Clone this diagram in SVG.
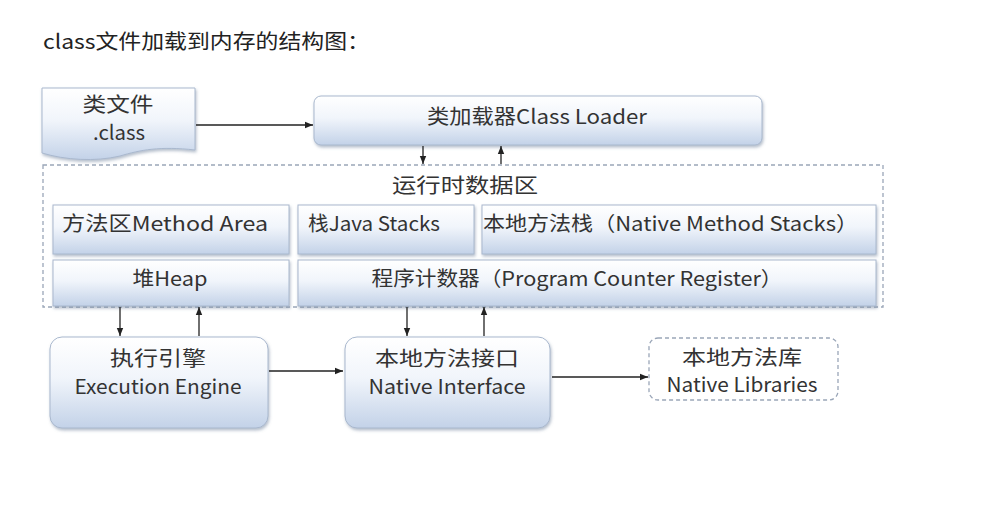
<svg xmlns="http://www.w3.org/2000/svg" width="981" height="511" viewBox="0 0 981 511">
<defs>
<linearGradient id="g" x1="0" y1="0" x2="0" y2="1">
<stop offset="0" stop-color="#ffffff"/>
<stop offset="0.45" stop-color="#f1f5fb"/>
<stop offset="1" stop-color="#c3d2e8"/>
</linearGradient>
<filter id="sh" x="-10%" y="-10%" width="120%" height="130%">
<feDropShadow dx="1" dy="2" stdDeviation="1.5" flood-color="#6b7f99" flood-opacity="0.5"/>
</filter>
<marker id="ah" viewBox="0 0 10 10" refX="10" refY="5" markerWidth="8" markerHeight="8" markerUnits="userSpaceOnUse" orient="auto">
<path d="M0,1 L10,5 L0,9 z" fill="#222"/>
</marker>
</defs>
<style>
text{font-family:"Noto Sans CJK SC","Noto Sans",sans-serif;fill:#333;font-size:20px}
.c{text-anchor:middle}
.box{fill:url(#g);stroke:#a9b8ce;stroke-width:1;filter:url(#sh)}
.con line{stroke:#222;stroke-width:1.3;marker-end:url(#ah)}
.dash{fill:none;stroke:#9aa6b8;stroke-width:1.3;stroke-dasharray:4 3}
</style>
<rect width="981" height="511" fill="#ffffff"/>
<text x="43" y="49" textLength="327" lengthAdjust="spacingAndGlyphs" style="fill:#222">class文件加载到内存的结构图：</text>

<g id="classfile">
<path class="box" d="M42,88 H195 V150 C160,146 140,150 120,156 C95,162 65,160 42,153 Z"/>
<text class="c" x="118" y="112" textLength="71" lengthAdjust="spacingAndGlyphs">类文件</text>
<text class="c" x="119" y="140" textLength="52" lengthAdjust="spacingAndGlyphs">.class</text>
</g>

<g id="classloader">
<rect class="box" x="314" y="96" width="448" height="49" rx="7"/>
<text class="c" x="537" y="124" textLength="220" lengthAdjust="spacingAndGlyphs">类加载器Class Loader</text>
</g>

<g id="runtime">
<rect class="dash" x="43" y="165" width="840" height="142"/>
<text class="c" x="465" y="193" textLength="146" lengthAdjust="spacingAndGlyphs">运行时数据区</text>
</g>

<g id="method">
<rect class="box" x="53" y="205" width="236" height="49"/>
<text x="62" y="231" textLength="206" lengthAdjust="spacingAndGlyphs">方法区Method Area</text>
</g>
<g id="javastacks">
<rect class="box" x="298" y="205" width="176" height="49"/>
<text x="308" y="231" textLength="132" lengthAdjust="spacingAndGlyphs">栈Java Stacks</text>
</g>
<g id="nativestacks">
<rect class="box" x="482" y="205" width="394" height="49"/>
<text x="483" y="231" textLength="375" lengthAdjust="spacingAndGlyphs">本地方法栈（Native Method Stacks）</text>
</g>
<g id="heap">
<rect class="box" x="53" y="260" width="236" height="46"/>
<text class="c" x="170" y="286" textLength="75" lengthAdjust="spacingAndGlyphs">堆Heap</text>
</g>
<g id="pc">
<rect class="box" x="298" y="260" width="578" height="46"/>
<text class="c" x="577" y="286" textLength="411" lengthAdjust="spacingAndGlyphs">程序计数器（Program Counter Register）</text>
</g>

<g id="engine">
<rect class="box" x="50" y="337" width="218" height="91" rx="12"/>
<text class="c" x="158" y="366" textLength="96" lengthAdjust="spacingAndGlyphs">执行引擎</text>
<text class="c" x="158" y="394" textLength="167" lengthAdjust="spacingAndGlyphs">Execution Engine</text>
</g>
<g id="nativeinterface">
<rect class="box" x="345" y="337" width="205" height="91" rx="12"/>
<text class="c" x="447" y="366" textLength="144" lengthAdjust="spacingAndGlyphs">本地方法接口</text>
<text class="c" x="447" y="394" textLength="157" lengthAdjust="spacingAndGlyphs">Native Interface</text>
</g>
<g id="nativelib">
<rect class="dash" x="649" y="338" width="189" height="62" rx="9"/>
<text class="c" x="742" y="365" textLength="120" lengthAdjust="spacingAndGlyphs">本地方法库</text>
<text class="c" x="742" y="392" textLength="151" lengthAdjust="spacingAndGlyphs">Native Libraries</text>
</g>

<g class="con" id="connectors">
<line x1="196" y1="125" x2="313" y2="125"/>
<line x1="423" y1="146" x2="423" y2="164"/>
<line x1="501" y1="164" x2="501" y2="146"/>
<line x1="120" y1="307" x2="120" y2="336"/>
<line x1="199" y1="336" x2="199" y2="307"/>
<line x1="407" y1="307" x2="407" y2="336"/>
<line x1="484" y1="336" x2="484" y2="307"/>
<line x1="269" y1="371" x2="343" y2="371"/>
<line x1="552" y1="377" x2="648" y2="377"/>
</g>
</svg>
